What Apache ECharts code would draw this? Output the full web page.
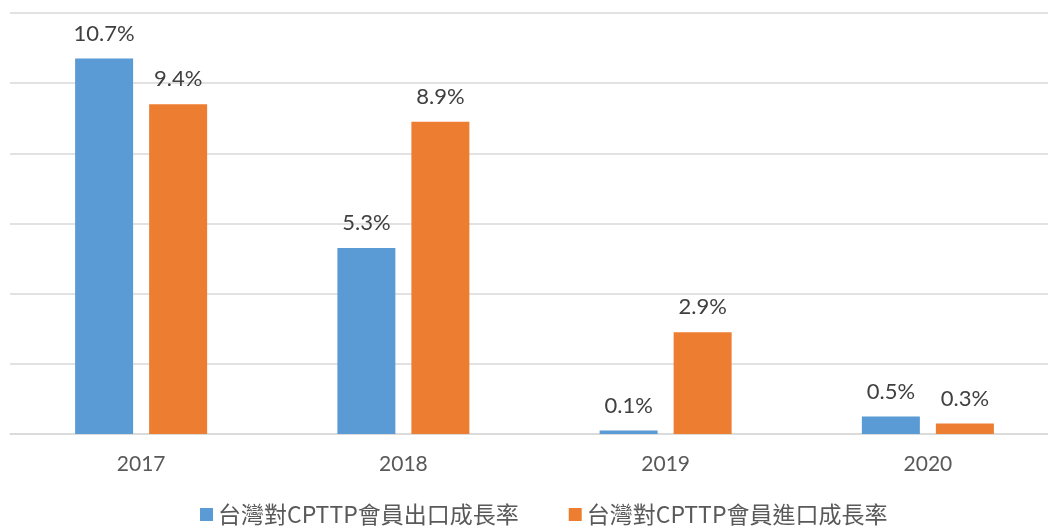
<!DOCTYPE html>
<html>
<head>
<meta charset="utf-8">
<script src="https://cdn.jsdelivr.net/npm/echarts@6/dist/echarts.min.js"></script>
<style>
html,body{margin:0;padding:0;background:#fff;}
#chart{width:1048px;height:532px;}
</style>
</head>
<body>
<div id="chart"></div>
<script>
const categories = ['2017', '2018', '2019', '2020'];
const exportGrowth = [10.7, 5.3, 0.1, 0.5];
const importGrowth = [9.4, 8.9, 2.9, 0.3];
const seriesNames = ['台灣對CPTTP會員出口成長率', '台灣對CPTTP會員進口成長率'];

const chart = echarts.init(document.getElementById('chart'));
const labelFont = 'Lato, "Noto Sans CJK TC", sans-serif';
const mkLabel = {
  show: true, position: 'top', distance: 14,
  color: '#404040', fontSize: 22, fontFamily: labelFont,
  formatter: p => p.value.toFixed(1) + '%'
};
chart.setOption({
  animation: false,
  grid: { left: 10, width: 1049, top: 13, height: 421, containLabel: false, outerBoundsMode: 'none' },
  legend: {
    bottom: 1, left: 195,
    itemWidth: 13, itemHeight: 13, itemGap: 50, icon: 'rect',
    textStyle: { color: '#595959', fontSize: 23, fontFamily: '"Noto Sans CJK TC", sans-serif' },
    data: seriesNames
  },
  xAxis: {
    type: 'category', data: categories,
    axisLine: { lineStyle: { color: '#d9d9d9', width: 1.5 } },
    axisTick: { show: false },
    axisLabel: { color: '#595959', fontSize: 21, fontFamily: labelFont, margin: 20 }
  },
  yAxis: {
    type: 'value', min: 0, max: 12, interval: 2,
    axisLabel: { show: false }, axisLine: { show: false }, axisTick: { show: false },
    splitLine: { lineStyle: { color: '#d9d9d9', width: 1.5 } }
  },
  series: [
    { name: seriesNames[0], type: 'bar', data: exportGrowth, barWidth: 58, barGap: '27.6%',
      itemStyle: { color: '#5B9BD5' }, label: mkLabel },
    { name: seriesNames[1], type: 'bar', data: importGrowth, barWidth: 58,
      itemStyle: { color: '#ED7D31' }, label: mkLabel }
  ]
});
</script>
</body>
</html>
